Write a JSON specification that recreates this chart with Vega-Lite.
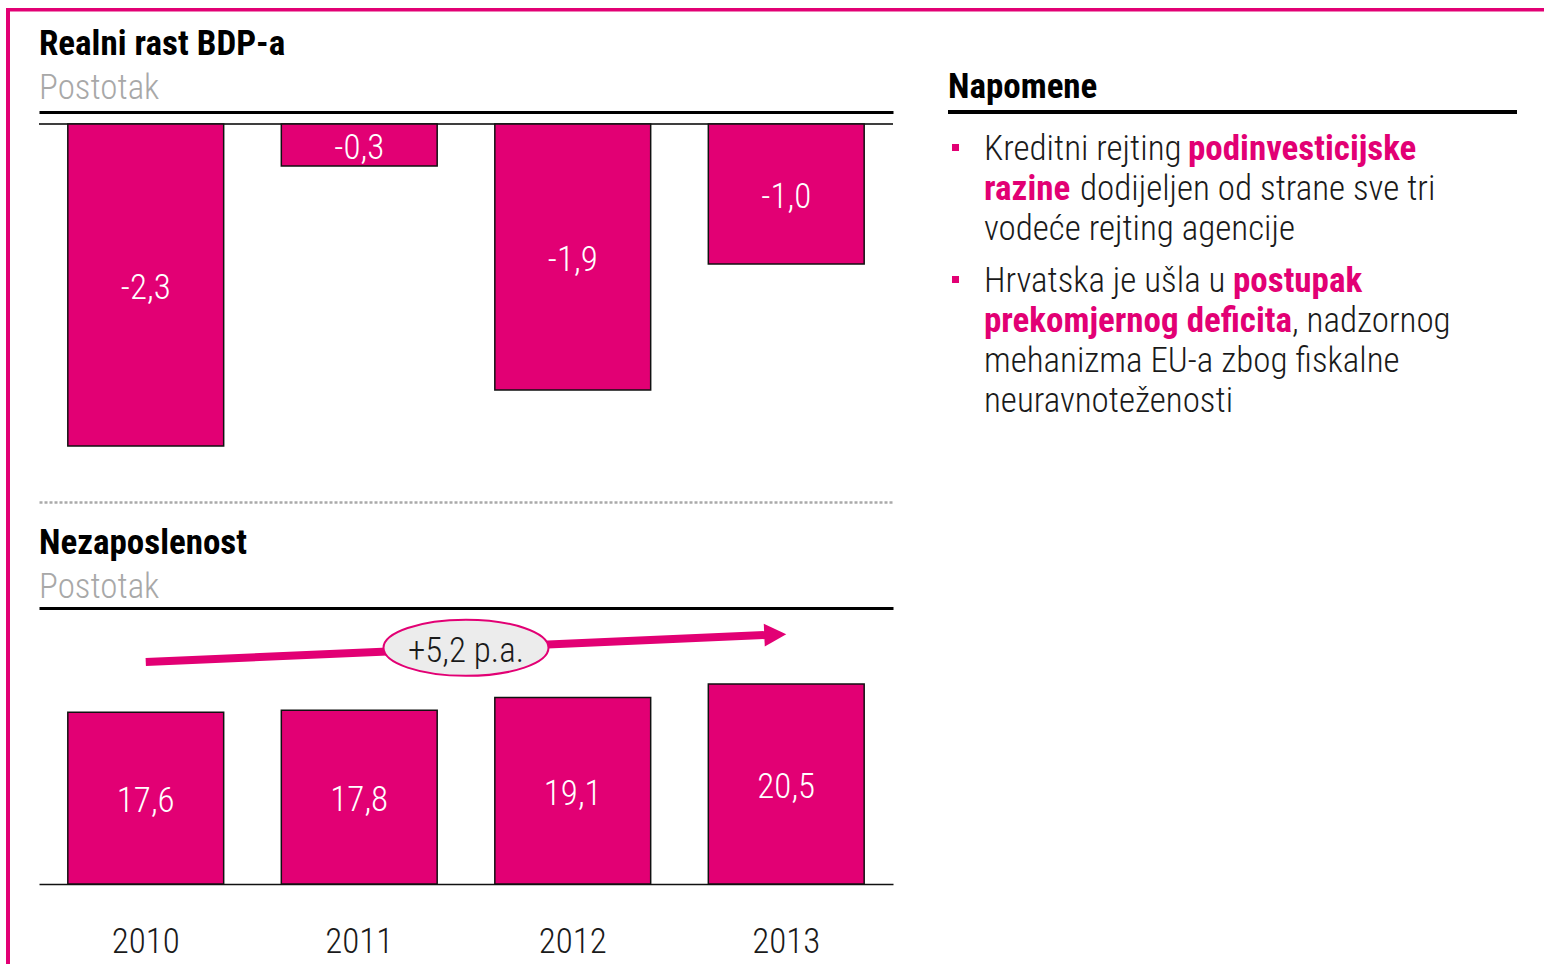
{
  "$schema": "https://vega.github.io/schema/vega-lite/v6.json",
  "padding": {"left": 6, "top": 8, "right": 0, "bottom": 0},
  "config": {
    "font": "Roboto Condensed",
    "view": {"stroke": null},
    "locale": {"number": {"decimal": ",", "thousands": ".", "grouping": [3], "currency": ["", ""], "minus": "-"}},
    "title": {"anchor": "start", "frame": "group", "fontSize": 35, "fontWeight": "bold", "color": "#000000", "subtitleFontSize": 35, "subtitleColor": "#a8a8a8", "subtitleFontWeight": 300, "subtitlePadding": 9, "offset": 6},
    "axis": {"grid": false, "ticks": false, "title": null}
  },
  "datasets": {
    "gdp": [
      {"year": "2010", "value": -2.3},
      {"year": "2011", "value": -0.3},
      {"year": "2012", "value": -1.9},
      {"year": "2013", "value": -1.0}
    ],
    "unemp": [
      {"year": "2010", "value": 17.6},
      {"year": "2011", "value": 17.8},
      {"year": "2012", "value": 19.1},
      {"year": "2013", "value": 20.5}
    ],
    "arrow": [
      {"from": 2010, "to": 2013, "start": 22.75, "end": 25.6, "mid": 2011.5, "midLevel": 24.2, "label": "+5,2 p.a."}
    ],
    "notes": [
      {"line": 1, "para": 1, "seg": "a", "emph": false, "text": "Kreditni rejting"},
      {"line": 1, "para": 1, "seg": "b", "emph": true, "text": "podinvesticijske"},
      {"line": 2, "para": 1, "seg": "a", "emph": true, "text": "razine"},
      {"line": 2, "para": 1, "seg": "b", "emph": false, "text": "dodijeljen od strane sve tri"},
      {"line": 3, "para": 1, "seg": "a", "emph": false, "text": "vodeće rejting agencije"},
      {"line": 4, "para": 2, "seg": "a", "emph": false, "text": "Hrvatska je ušla u"},
      {"line": 4, "para": 2, "seg": "b", "emph": true, "text": "postupak"},
      {"line": 5, "para": 2, "seg": "a", "emph": true, "text": "prekomjernog deficita"},
      {"line": 5, "para": 2, "seg": "b", "emph": false, "text": ", nadzornog"},
      {"line": 6, "para": 2, "seg": "a", "emph": false, "text": "mehanizma EU-a zbog fiskalne"},
      {"line": 7, "para": 2, "seg": "a", "emph": false, "text": "neuravnoteženosti"}
    ]
  },
  "hconcat": [
    {"width": 4, "height": 956, "view": {"fill": "#e20074", "stroke": null}, "data": {"values": []}, "mark": "point", "encoding": {}},
    {"vconcat": [
      {"width": 1534, "height": 3.5, "view": {"fill": "#e20074", "stroke": null}, "data": {"values": []}, "mark": "point", "encoding": {}},
      {"hconcat": [
        {"width": 1, "height": 1, "data": {"values": []}, "mark": "point", "encoding": {}},
        {"hconcat": [
          {"vconcat": [
            {
              "title": {"text": "Realni rast BDP-a", "subtitle": "Postotak"},
              "width": 854, "height": 390,
              "data": {"name": "gdp"},
              "resolve": {"scale": {"y": "independent"}, "axis": {"x": "independent"}},
              "layer": [
                {"mark": {"type": "rule", "color": "#333333", "strokeWidth": 1},
                 "encoding": {"y": {"datum": 0, "type": "quantitative", "scale": {"domain": [-2.7, 0.0857], "nice": false, "zero": false}, "axis": null}}},
                {"mark": {"type": "bar", "fill": "#e20074", "stroke": "#111111", "strokeWidth": 1.5},
                 "encoding": {
                   "x": {"field": "year", "type": "nominal", "scale": {"paddingInner": 0.27, "paddingOuter": 0.135}, "axis": {"orient": "top", "labels": false, "ticks": false, "title": null, "domainColor": "#000000", "domainWidth": 3}},
                   "y": {"field": "value", "type": "quantitative", "scale": {"domain": [-2.7, 0.0857], "nice": false, "zero": false}, "axis": null}}},
                {"mark": {"type": "text", "color": "#ffffff", "fontSize": 35, "fontWeight": 300, "baseline": "middle", "dy": 3},
                 "encoding": {
                   "x": {"field": "year", "type": "nominal", "scale": {"paddingInner": 0.27, "paddingOuter": 0.135}, "axis": {"orient": "bottom", "labels": false, "ticks": false, "title": null, "domainColor": "#aaaaaa", "domainWidth": 2.5, "domainDash": [3, 2]}},
                   "y": {"field": "value", "type": "quantitative", "scale": {"domain": [-5.4, 0.1714], "nice": false, "zero": false}, "axis": null},
                   "text": {"field": "value", "type": "quantitative", "format": ".1f"}}}
              ]
            },
            {
              "title": {"text": "Nezaposlenost", "subtitle": "Postotak", "offset": 3},
              "width": 854, "height": 276,
              "resolve": {"scale": {"x": "independent", "y": "independent"}, "axis": {"x": "independent"}},
              "layer": [
                {"data": {"name": "unemp"},
                 "mark": {"type": "bar", "fill": "#e20074", "stroke": "#111111", "strokeWidth": 1.5},
                 "encoding": {
                   "x": {"field": "year", "type": "nominal", "scale": {"paddingInner": 0.27, "paddingOuter": 0.135}, "axis": {"orient": "bottom", "ticks": false, "title": null, "labelAngle": 0, "labelFontSize": 35, "labelFont": "Roboto Condensed", "labelFontWeight": 300, "labelColor": "#1a1a1a", "labelBaseline": "alphabetic", "labelPadding": 68, "domainColor": "#111111", "domainWidth": 1.5}},
                   "y": {"field": "value", "type": "quantitative", "scale": {"domain": [0, 28.28], "nice": false, "zero": false}, "axis": null}}},
                {"data": {"name": "unemp"},
                 "mark": {"type": "text", "color": "#ffffff", "fontSize": 35, "fontWeight": 300, "baseline": "middle", "dy": 3},
                 "encoding": {
                   "x": {"field": "year", "type": "nominal", "scale": {"paddingInner": 0.27, "paddingOuter": 0.135}, "axis": {"orient": "top", "labels": false, "ticks": false, "title": null, "domainColor": "#000000", "domainWidth": 3}},
                   "y": {"field": "value", "type": "quantitative", "scale": {"domain": [0, 56.56], "nice": false, "zero": false}, "axis": null},
                   "text": {"field": "value", "type": "quantitative", "format": ".1f"}}},
                {"data": {"name": "arrow"},
                 "mark": {"type": "rule", "color": "#e20074", "strokeWidth": 8, "x2Offset": -14, "y2Offset": 0.6},
                 "encoding": {
                   "x": {"field": "from", "type": "quantitative", "scale": {"domain": [2009.5, 2013.5], "nice": false, "zero": false}, "axis": null},
                   "x2": {"field": "to"},
                   "y": {"field": "start", "type": "quantitative", "scale": {"domain": [0, 28.28], "nice": false, "zero": false}, "axis": null},
                   "y2": {"field": "end"}}},
                {"data": {"name": "arrow"},
                 "mark": {"type": "point", "shape": "M0,0L-1,-0.52L-1,0.52Z", "size": 1936, "angle": -2.5, "filled": true, "color": "#e20074", "opacity": 1},
                 "encoding": {
                   "x": {"field": "to", "type": "quantitative", "scale": {"domain": [2009.5, 2013.5], "nice": false, "zero": false}, "axis": null},
                   "y": {"field": "end", "type": "quantitative", "scale": {"domain": [0, 28.28], "nice": false, "zero": false}, "axis": null}}},
                {"data": {"name": "arrow"},
                 "mark": {"type": "point", "shape": "M-1,0C-1,-0.1878,-0.5523,-0.34,0,-0.34C0.5523,-0.34,1,-0.1878,1,0C1,0.1878,0.5523,0.34,0,0.34C-0.5523,0.34,-1,0.1878,-1,0Z", "size": 27225, "filled": true, "fill": "#ececec", "stroke": "#e20074", "strokeWidth": 2, "opacity": 1},
                 "encoding": {
                   "x": {"field": "mid", "type": "quantitative", "scale": {"domain": [2009.5, 2013.5], "nice": false, "zero": false}, "axis": null},
                   "y": {"field": "midLevel", "type": "quantitative", "scale": {"domain": [0, 28.28], "nice": false, "zero": false}, "axis": null}}},
                {"data": {"name": "arrow"},
                 "mark": {"type": "text", "color": "#1a1a1a", "fontSize": 35, "fontWeight": 300, "baseline": "middle", "dy": 3},
                 "encoding": {
                   "x": {"field": "mid", "type": "quantitative", "scale": {"domain": [2009.5, 2013.5], "nice": false, "zero": false}, "axis": null},
                   "y": {"field": "midLevel", "type": "quantitative", "scale": {"domain": [0, 28.28], "nice": false, "zero": false}, "axis": null},
                   "text": {"field": "label"}}}
              ]
            }
          ], "spacing": 24},
          {
            "title": {"text": " ", "subtitle": "Napomene", "subtitleFontWeight": "bold", "subtitleColor": "#000000"},
            "width": 569, "height": 320,
            "data": {"name": "notes"},
            "layer": [
              {"mark": {"type": "rule", "color": "#000000", "strokeWidth": 3},
               "encoding": {"y": {"datum": 0.0875, "type": "quantitative", "scale": {"domain": [0.0875, 8.0875], "nice": false, "zero": false, "reverse": true}, "axis": null}}},
              {"transform": [{"filter": "datum.seg == 'a' && datum.para == 1"}],
               "mark": {"type": "point", "shape": "square", "size": 49, "filled": true, "color": "#e20074", "opacity": 1, "yOffset": -1},
               "encoding": {"x": {"value": 7.5}, "y": {"field": "line", "type": "quantitative", "aggregate": "min"}}},
              {"transform": [{"filter": "datum.seg == 'a' && datum.para == 2"}],
               "mark": {"type": "point", "shape": "square", "size": 49, "filled": true, "color": "#e20074", "opacity": 1, "yOffset": 11},
               "encoding": {"x": {"value": 7.5}, "y": {"field": "line", "type": "quantitative", "aggregate": "min"}}},
              {"transform": [{"filter": "datum.seg == 'a' && !datum.emph && datum.para == 1"}],
               "mark": {"type": "text", "align": "left", "baseline": "middle", "fontSize": 35, "fontWeight": 300, "color": "#1a1a1a"},
               "encoding": {"x": {"value": 36}, "y": {"field": "line", "type": "quantitative"}, "text": {"field": "text"}}},
              {"transform": [{"filter": "datum.seg == 'a' && !datum.emph && datum.para == 2"}],
               "mark": {"type": "text", "align": "left", "baseline": "middle", "fontSize": 35, "fontWeight": 300, "color": "#1a1a1a", "yOffset": 12},
               "encoding": {"x": {"value": 36}, "y": {"field": "line", "type": "quantitative"}, "text": {"field": "text"}}},
              {"transform": [{"filter": "datum.seg == 'a' && datum.emph && datum.para == 1"}],
               "mark": {"type": "text", "align": "left", "baseline": "middle", "fontSize": 35, "fontWeight": "bold", "color": "#e20074"},
               "encoding": {"x": {"value": 36}, "y": {"field": "line", "type": "quantitative"}, "text": {"field": "text"}}},
              {"transform": [{"filter": "datum.seg == 'a' && datum.emph && datum.para == 2"}],
               "mark": {"type": "text", "align": "left", "baseline": "middle", "fontSize": 35, "fontWeight": "bold", "color": "#e20074", "yOffset": 12},
               "encoding": {"x": {"value": 36}, "y": {"field": "line", "type": "quantitative"}, "text": {"field": "text"}}},
              {"transform": [{"filter": "datum.line == 1 && datum.seg == 'b'"}],
               "mark": {"type": "text", "align": "left", "baseline": "middle", "fontSize": 35, "fontWeight": "bold", "color": "#e20074"},
               "encoding": {"x": {"value": 240}, "y": {"field": "line", "type": "quantitative"}, "text": {"field": "text"}}},
              {"transform": [{"filter": "datum.line == 2 && datum.seg == 'b'"}],
               "mark": {"type": "text", "align": "left", "baseline": "middle", "fontSize": 35, "fontWeight": 300, "color": "#1a1a1a"},
               "encoding": {"x": {"value": 132}, "y": {"field": "line", "type": "quantitative"}, "text": {"field": "text"}}},
              {"transform": [{"filter": "datum.line == 4 && datum.seg == 'b'"}],
               "mark": {"type": "text", "align": "left", "baseline": "middle", "fontSize": 35, "fontWeight": "bold", "color": "#e20074", "yOffset": 12},
               "encoding": {"x": {"value": 285}, "y": {"field": "line", "type": "quantitative"}, "text": {"field": "text"}}},
              {"transform": [{"filter": "datum.line == 5 && datum.seg == 'b'"}],
               "mark": {"type": "text", "align": "left", "baseline": "middle", "fontSize": 35, "fontWeight": 300, "color": "#1a1a1a", "yOffset": 12},
               "encoding": {"x": {"value": 344}, "y": {"field": "line", "type": "quantitative"}, "text": {"field": "text"}}}
            ]
          }
        ], "spacing": 52}
      ], "spacing": 27}
    ], "spacing": 13}
  ], "spacing": 0
}
